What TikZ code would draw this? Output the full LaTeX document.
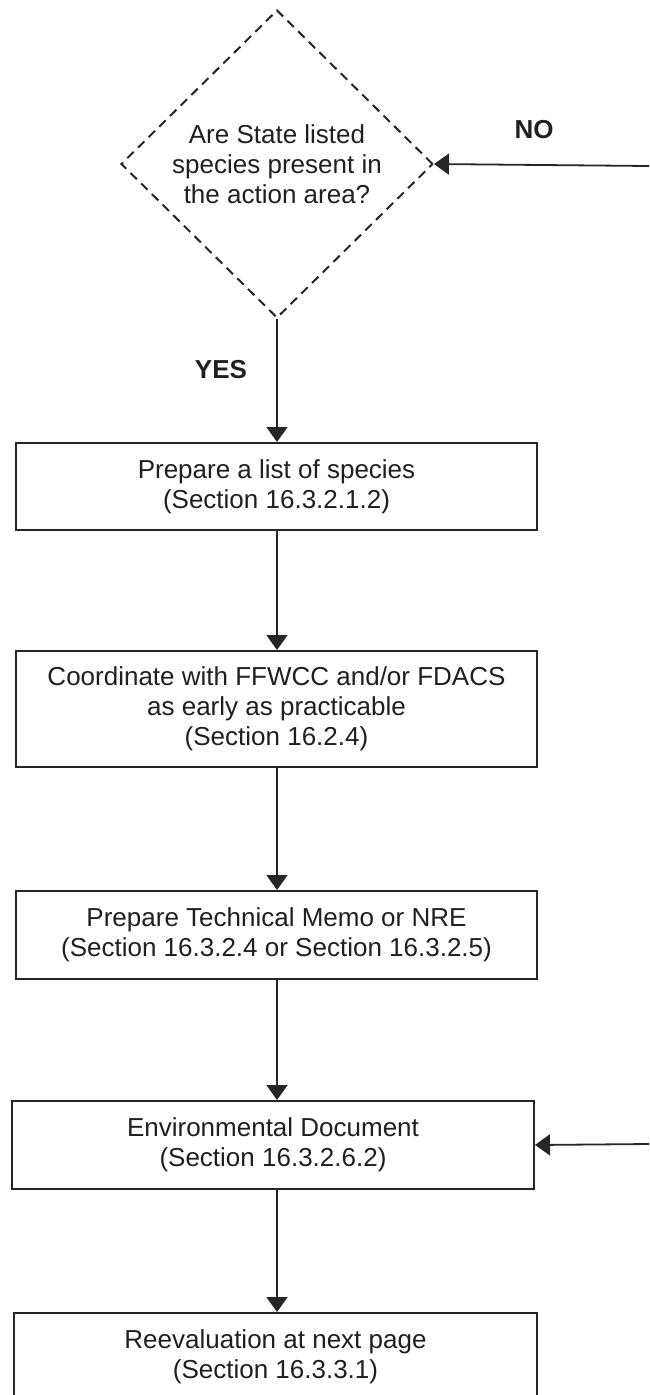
\documentclass[tikz,border=0pt]{standalone}
\usepackage{fontspec}
\setmainfont{Liberation Sans}
\usetikzlibrary{shapes.geometric,arrows.meta}
\begin{document}
\begin{tikzpicture}[x=1pt,y=-1pt,
  txt/.style={font=\fontsize{26}{30}\selectfont, align=center, text=black!88},
  box/.style={txt, draw=black!85, line width=2pt, inner sep=0pt},
  dec/.style={txt, draw=black!85, diamond, dash pattern=on 9pt off 6pt, line width=2pt, inner sep=0pt, minimum width=312pt, minimum height=308pt},
  lbl/.style={font=\fontsize{26}{30}\selectfont\bfseries, text=black!88},
  conn/.style={draw=black!85, line width=1.8pt, -{Triangle[length=15pt,width=21pt]}}
]
\useasboundingbox (0,0) rectangle (649,1395);

\node[dec] (dia) at (277,164) {Are State listed\\species present in\\the action area?};

\node[box, minimum width=521pt, minimum height=87pt] (b1) at (276.5,486.5) {Prepare a list of species\\(Section 16.3.2.1.2)};
\node[box, minimum width=521pt, minimum height=116pt] (b2) at (276.5,709) {Coordinate with FFWCC and/or FDACS\\as early as practicable\\(Section 16.2.4)};
\node[box, minimum width=521pt, minimum height=88pt] (b3) at (276.5,935) {Prepare Technical Memo or NRE\\(Section 16.3.2.4 or Section 16.3.2.5)};
\node[box, minimum width=522pt, minimum height=88pt] (b4) at (273,1145) {Environmental Document\\(Section 16.3.2.6.2)};
\node[box, minimum width=523pt, minimum height=88pt] (b5) at (275.5,1357) {Reevaluation at next page\\(Section 16.3.3.1)};

\node[lbl] (no) at (534,130) {NO};
\node[lbl] (yes) at (221,370) {YES};

\coordinate (noin) at (649,166);
\coordinate (edin) at (649,1144);

\draw[conn] (noin) -- (dia.east);
\draw[conn] (edin) -- (b4.east);
\draw[conn] (dia.south) -- (b1.north -| dia.south);
\draw[conn] (b1.south -| dia.south) -- (b2.north -| dia.south);
\draw[conn] (b2.south -| dia.south) -- (b3.north -| dia.south);
\draw[conn] (b3.south -| dia.south) -- (b4.north -| dia.south);
\draw[conn] (b4.south -| dia.south) -- (b5.north -| dia.south);
\end{tikzpicture}
\end{document}
